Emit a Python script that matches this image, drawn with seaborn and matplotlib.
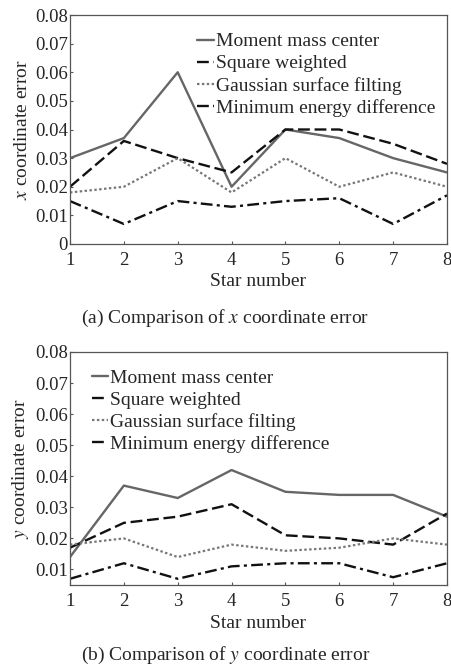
import matplotlib
matplotlib.use("Agg")
import matplotlib.pyplot as plt
import seaborn as sns
import pandas as pd

# star numbers
stars = [1, 2, 3, 4, 5, 6, 7, 8]
methods = ["Moment mass center", "Square weighted",
           "Gaussian surface filting", "Minimum energy difference"]

# x coordinate error
x_moment = [0.030, 0.037, 0.060, 0.020, 0.040, 0.037, 0.030, 0.025]
x_square = [0.020, 0.036, 0.030, 0.025, 0.040, 0.040, 0.035, 0.028]
x_gauss = [0.018, 0.020, 0.030, 0.018, 0.030, 0.020, 0.025, 0.020]
x_minen = [0.015, 0.007, 0.015, 0.013, 0.015, 0.016, 0.007, 0.017]

# y coordinate error
y_moment = [0.014, 0.037, 0.033, 0.042, 0.035, 0.034, 0.034, 0.027]
y_square = [0.017, 0.025, 0.027, 0.031, 0.021, 0.020, 0.018, 0.028]
y_gauss = [0.018, 0.020, 0.014, 0.018, 0.016, 0.017, 0.020, 0.018]
y_minen = [0.007, 0.012, 0.007, 0.011, 0.012, 0.012, 0.0075, 0.012]

# tick labels
x_yticks = ["0", "0.01", "0.02", "0.03", "0.04", "0.05", "0.06", "0.07", "0.08"]
y_yticks = ["0.01", "0.02", "0.03", "0.04", "0.05", "0.06", "0.07", "0.08"]

sns.set_style("white")
plt.rcParams['font.family'] = ['Liberation Serif', 'DejaVu Serif']
plt.rcParams['mathtext.fontset'] = 'stix'

styles = {
    methods[0]: ("#666666", "-", 1.7),
    methods[1]: ("#111111", (0, (5, 2)), 1.7),
    methods[2]: ("#777777", (0, (1.1, 1.1)), 1.6),
    methods[3]: ("#111111", (0, (5, 1.8, 1.3, 1.8)), 1.7),
}


def to_frame(series):
    rows = []
    for name, vals in zip(methods, series):
        for s, v in zip(stars, vals):
            rows.append({"star": s, "err": v, "method": name})
    return pd.DataFrame(rows)


def draw(ax, df, ylabel, ylim, ytlabels, legend_loc):
    for name in methods:
        col, ls, lw = styles[name]
        sub = df[df["method"] == name]
        sns.lineplot(data=sub, x="star", y="err", ax=ax, color=col,
                     linestyle=ls, linewidth=lw, label=name)
    ax.set_xlim(1, 8)
    ax.set_ylim(*ylim)
    ax.set_xticks(stars)
    ax.set_yticks([float(t) for t in ytlabels])
    ax.set_yticklabels(ytlabels)
    ax.tick_params(labelsize=13.5, direction="in", length=2.5, width=0.8,
                   color="#555555", bottom=True, left=True)
    ax.tick_params(axis="y", pad=1.5)
    ax.tick_params(axis="x", pad=6)
    ax.set_xlabel("Star number", fontsize=14, labelpad=3)
    ax.set_ylabel(ylabel, fontsize=14, labelpad=3)
    for sp in ax.spines.values():
        sp.set_color("#555555")
        sp.set_linewidth(0.9)
    leg = ax.legend(loc="upper left", bbox_to_anchor=legend_loc, frameon=False,
                    fontsize=14, handlelength=0.85, handletextpad=0.1,
                    labelspacing=0.22, borderaxespad=0, borderpad=0)
    return leg


fig = plt.figure(figsize=(4.51, 6.67), dpi=100)
ax1 = fig.add_axes([70 / 451, 1 - 244 / 667, 377 / 451, 229 / 667])
ax2 = fig.add_axes([70 / 451, 1 - 585 / 667, 377 / 451, 233 / 667])

draw(ax1, to_frame([x_moment, x_square, x_gauss, x_minen]),
     "$x$ coordinate error", (0, 0.08), x_yticks, (0.337, 0.922))
draw(ax2, to_frame([y_moment, y_square, y_gauss, y_minen]),
     "$y$ coordinate error", (0.005, 0.08), y_yticks, (0.058, 0.925))

fig.text(0.5, 1 - 318 / 667, "(a) Comparison of $x$ coordinate error",
         ha="center", va="center", fontsize=14)
fig.text(0.5, 1 - 655 / 667, "(b) Comparison of $y$ coordinate error",
         ha="center", va="center", fontsize=14)

fig.savefig("out.png", dpi=100)
